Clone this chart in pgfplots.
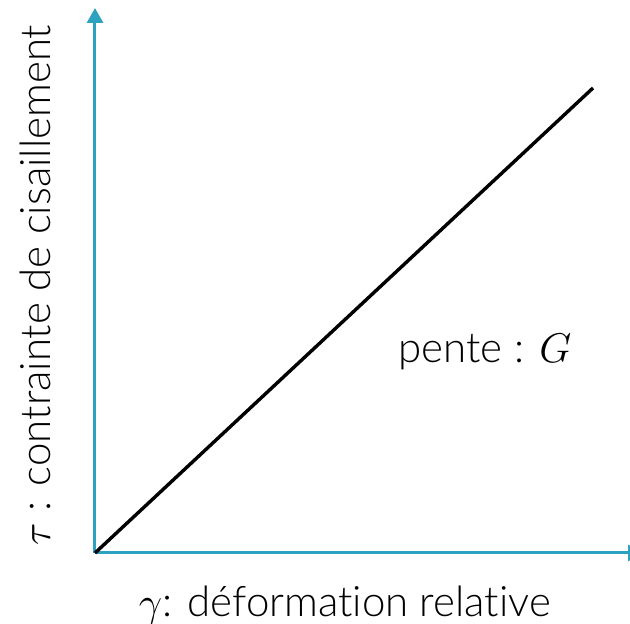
\documentclass[border=0pt]{standalone}
\usepackage{pgfplots}
\pgfplotsset{compat=1.18}
\usepackage{fontspec}
\setmainfont{Lato}[UprightFont=* Light, Ligatures=NoCommon]
\usetikzlibrary{arrows.meta}
\definecolor{axisblue}{RGB}{44,162,192}
\newcommand\var[1]{{\fontsize{22.5}{25}\selectfont$#1$}}
\begin{document}
\begin{tikzpicture}
\fontsize{21}{25}\selectfont
\begin{axis}[
  scale only axis,
  width=274pt, height=272.5pt,
  xmin=0, xmax=548, ymin=0, ymax=545,
  axis lines=left,
  axis line style={axisblue, line width=1.5pt, -{Triangle[width=8pt,length=7.5pt]}},
  xtick=\empty, ytick=\empty,
  clip=false,
]
  % linear stress--strain relation
  \addplot[black, line width=1.7pt] coordinates {(0,0) (498,465)};
  \node at (axis cs:390,201) {pente : \var{G}};
  \node at (axis cs:250,-52) {\var{\gamma}: déformation relative};
  \node[rotate=90] at (axis cs:-60,268) {\var{\tau} : contrainte de cisaillement};
  \coordinate (bl) at (axis cs:-95,-71);
  \coordinate (tr) at (axis cs:535,553);
\end{axis}
\pgfresetboundingbox
\path[use as bounding box] (bl) rectangle (tr);
\end{tikzpicture}
\end{document}
